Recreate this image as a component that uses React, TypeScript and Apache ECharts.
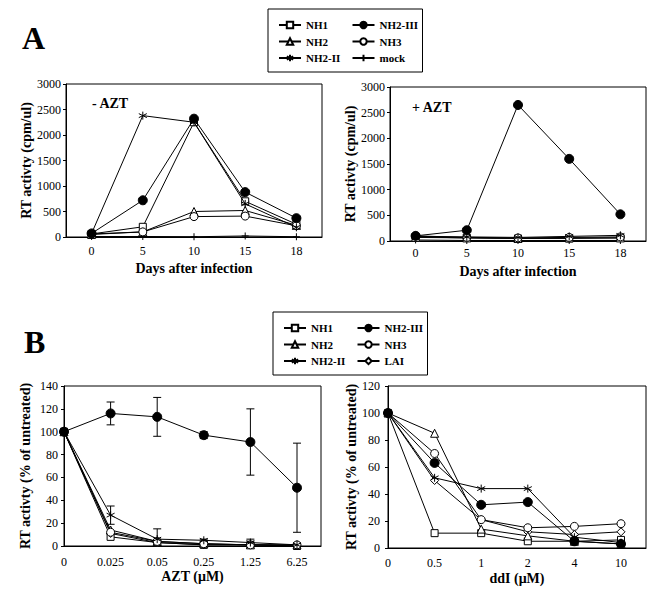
import React, { useEffect, useRef } from 'react';
import * as echarts from 'echarts';

// ---------- data ----------
const DAYS = ['0', '5', '10', '15', '18'];
// Panel A, - AZT (cpm/ul)
const MINUS_NH1 = [60, 200, 2250, 700, 250];
const MINUS_NH2 = [50, 100, 500, 520, 230];
const MINUS_NH2_II = [70, 2380, 2250, 650, 190];
const MINUS_NH2_III = [70, 720, 2320, 880, 370];
const MINUS_NH3 = [60, 100, 400, 410, 220];
const MINUS_MOCK = [10, 10, 5, 20, 5];
// Panel A, + AZT (cpm/ul)
const PLUS_NH1 = [80, 60, 50, 50, 60];
const PLUS_NH2 = [70, 60, 50, 60, 60];
const PLUS_NH2_II = [90, 80, 70, 90, 110];
const PLUS_NH2_III = [100, 210, 2650, 1600, 520];
const PLUS_NH3 = [100, 70, 60, 70, 80];
const PLUS_MOCK = [20, 10, 10, 10, 10];

// Panel B, AZT (% of untreated)
const AZT_DOSES = ['0', '0.025', '0.05', '0.25', '1.25', '6.25'];
const AZT_NH1 = [100, 8, 3, 1, 1, 0];
const AZT_NH2 = [100, 14, 4, 2, 1, 1];
const AZT_NH2_II = [100, 27, 6, 5, 3, 1];
const AZT_NH2_III = [100, 116, 113, 97, 91, 51];
const AZT_NH3 = [100, 12, 4, 2, 1, 1];
const AZT_LAI = [100, 11, 3, 1, 1, 0];
const AZT_NH2_III_ERR = [0, 10, 17, 3, 29, 39];
const AZT_NH2_II_ERR = [0, 8, 9, 1, 3, 1];

// Panel B, ddI (% of untreated)
const DDI_DOSES = ['0', '0.5', '1', '2', '4', '10'];
const DDI_NH1 = [100, 11, 11, 5, 5, 6];
const DDI_NH2 = [100, 85, 14, 9, 5, 3];
const DDI_NH2_II = [100, 52, 44, 44, 8, 4];
const DDI_NH2_III = [100, 63, 32, 34, 5, 3];
const DDI_NH3 = [100, 70, 21, 15, 16, 18];
const DDI_LAI = [100, 50, 21, 12, 10, 12];

// ---------- styles ----------
const FONT = "'Liberation Serif', serif";
const STAR = 'path://M5,0L5,10M0.7,2.5L9.3,7.5M9.3,2.5L0.7,7.5';
const PLUS = 'path://M0,5L10,5M5,0L5,10';
const STYLES: Record<string, { symbol: string; size: number; fill: string; z: number }> = {
  NH1: { symbol: 'rect', size: 7, fill: '#fff', z: 3 },
  NH2: { symbol: 'triangle', size: 8, fill: '#fff', z: 3 },
  'NH2-II': { symbol: STAR, size: 8, fill: '#000', z: 4 },
  'NH2-III': { symbol: 'circle', size: 9, fill: '#000', z: 5 },
  NH3: { symbol: 'circle', size: 8, fill: '#fff', z: 3 },
  mock: { symbol: PLUS, size: 7, fill: '#000', z: 2 },
  LAI: { symbol: 'diamond', size: 8, fill: '#fff', z: 3 },
};

function line(name: string, values: number[], idx: number, indexed: boolean) {
  const s = STYLES[name];
  return {
    type: 'line',
    name,
    xAxisIndex: idx,
    yAxisIndex: idx,
    data: indexed ? values.map((v, i) => [i, v]) : values,
    symbol: s.symbol,
    symbolSize: s.size,
    showSymbol: true,
    showAllSymbol: true,
    lineStyle: { color: '#000', width: 1 },
    itemStyle: { color: s.fill, borderColor: '#000', borderWidth: 1 },
    emphasis: { disabled: true },
    z: s.z,
  };
}

function errorBars(values: number[], errs: number[], idx: number) {
  return {
    type: 'custom',
    xAxisIndex: idx,
    yAxisIndex: idx,
    encode: { x: 0, y: [1, 2] },
    data: values.map((v, i) => [i, Math.max(0, v - errs[i]), v + errs[i]]).filter((d, i) => errs[i] > 0),
    z: 1,
    silent: true,
    renderItem: (params: any, api: any) => {
      const x = api.value(0);
      const top = api.coord([x, api.value(2)]);
      const bot = api.coord([x, api.value(1)]);
      const w = 4;
      const st = { stroke: '#000', lineWidth: 1 };
      return {
        type: 'group',
        children: [
          { type: 'line', shape: { x1: top[0], y1: top[1], x2: bot[0], y2: bot[1] }, style: st },
          { type: 'line', shape: { x1: top[0] - w, y1: top[1], x2: top[0] + w, y2: top[1] }, style: st },
          { type: 'line', shape: { x1: bot[0] - w, y1: bot[1], x2: bot[0] + w, y2: bot[1] }, style: st },
        ],
      };
    },
  };
}

const nameStyle = { fontFamily: FONT, fontWeight: 'bold', fontSize: 14, color: '#000' };
const axisLine = { show: true, onZero: false, lineStyle: { color: '#000', width: 1 } };

function yAxis(gi: number, max: number, interval: number, name: string, gap: number, margin: number) {
  return {
    type: 'value',
    gridIndex: gi,
    min: 0,
    max,
    interval,
    name,
    nameLocation: 'middle',
    nameGap: gap,
    nameTextStyle: nameStyle,
    axisLine,
    axisTick: { show: true, inside: false, length: 3, lineStyle: { color: '#000', width: 1 } },
    axisLabel: { color: '#000', fontFamily: FONT, fontSize: 12, margin, formatter: (v: number) => String(v) },
    splitLine: { show: false },
  };
}

function catXAxis(gi: number, name: string, gap: number, margin: number) {
  return {
    type: 'category',
    gridIndex: gi,
    data: DAYS,
    boundaryGap: true,
    name,
    nameLocation: 'middle',
    nameGap: gap,
    nameTextStyle: nameStyle,
    axisLine,
    axisTick: { show: false },
    axisLabel: { color: '#000', fontFamily: FONT, fontSize: 12, margin, interval: 0 },
    splitLine: { show: false },
  };
}

function doseXAxis(gi: number, labels: string[], max: number, name: string, gap: number, margin: number) {
  return {
    type: 'value',
    gridIndex: gi,
    min: 0,
    max,
    interval: 1,
    name,
    nameLocation: 'middle',
    nameGap: gap,
    nameTextStyle: nameStyle,
    axisLine,
    axisTick: { show: false },
    axisLabel: {
      color: '#000',
      fontFamily: FONT,
      fontSize: 12,
      margin,
      showMaxLabel: false,
      formatter: (v: number) => (Number.isInteger(v) && labels[v] != null ? labels[v] : ''),
    },
    splitLine: { show: false },
  };
}

function legend(names: string[], left: number, top: number) {
  return {
    data: names,
    left,
    top,
    width: 150,
    orient: 'horizontal',
    itemWidth: 22,
    itemHeight: 8,
    itemGap: 4.5,
    padding: [10, 2, 8, 10],
    borderColor: '#000',
    borderWidth: 1,
    selectedMode: false,
    textStyle: { fontFamily: FONT, fontWeight: 'bold', fontSize: 11, color: '#000', width: 41, lineHeight: 12 },
  };
}

const gridBase = { show: true, borderColor: '#000', borderWidth: 1, backgroundColor: 'transparent', containLabel: false, outerBoundsMode: 'none' };

export default function App() {
  const ref = useRef<HTMLDivElement>(null);
  useEffect(() => {
    if (!ref.current) return;
    const chart = echarts.init(ref.current, null, { renderer: 'svg' });
    const option: any = {
      animation: false,
      backgroundColor: '#fff',
      textStyle: { fontFamily: FONT },
      grid: [
        { ...gridBase, left: 66, top: 84, width: 256, height: 153 },
        { ...gridBase, left: 390, top: 87, width: 256, height: 154 },
        { ...gridBase, left: 64, top: 386, width: 257, height: 160 },
        { ...gridBase, left: 388, top: 386, width: 258, height: 162 },
      ],
      xAxis: [
        catXAxis(0, 'Days after infection', 24, 8),
        catXAxis(1, 'Days after infection', 23, 6),
        doseXAxis(2, AZT_DOSES, 257 / 46.6, 'AZT (μM)', 23, 10),
        doseXAxis(3, DDI_DOSES, 258 / 46.6, 'ddI (μM)', 23, 9),
      ],
      yAxis: [
        yAxis(0, 3000, 500, 'RT activty (cpm/ul)', 33, 5),
        yAxis(1, 3000, 500, 'RT activty (cpm/ul)', 28, 5),
        yAxis(2, 140, 20, 'RT activty (% of untreated)', 32, 6),
        yAxis(3, 120, 20, 'RT activty (% of untreated)', 26, 8),
      ],
      legend: [
        legend(['NH1', 'NH2-III', 'NH2', 'NH3', 'NH2-II', 'mock'], 268, 9),
        legend(['NH1', 'NH2-III', 'NH2', 'NH3', 'NH2-II', 'LAI'], 273, 312),
      ],
      graphic: [
        { type: 'text', left: 22, top: 22, style: { text: 'A', font: `bold 32px ${FONT}`, fill: '#000' } },
        { type: 'text', left: 24, top: 326, style: { text: 'B', font: `bold 32px ${FONT}`, fill: '#000' } },
        { type: 'text', left: 92, top: 96, style: { text: '- AZT', font: `bold 14px ${FONT}`, fill: '#000' } },
        { type: 'text', left: 412, top: 100, style: { text: '+ AZT', font: `bold 14px ${FONT}`, fill: '#000' } },
      ],
      series: [
        line('mock', MINUS_MOCK, 0, false),
        line('NH1', MINUS_NH1, 0, false),
        line('NH2', MINUS_NH2, 0, false),
        line('NH3', MINUS_NH3, 0, false),
        line('NH2-II', MINUS_NH2_II, 0, false),
        line('NH2-III', MINUS_NH2_III, 0, false),

        line('mock', PLUS_MOCK, 1, false),
        line('NH1', PLUS_NH1, 1, false),
        line('NH2', PLUS_NH2, 1, false),
        line('NH3', PLUS_NH3, 1, false),
        line('NH2-II', PLUS_NH2_II, 1, false),
        line('NH2-III', PLUS_NH2_III, 1, false),

        errorBars(AZT_NH2_III, AZT_NH2_III_ERR, 2),
        errorBars(AZT_NH2_II, AZT_NH2_II_ERR, 2),
        line('NH1', AZT_NH1, 2, true),
        line('LAI', AZT_LAI, 2, true),
        line('NH2', AZT_NH2, 2, true),
        line('NH3', AZT_NH3, 2, true),
        line('NH2-II', AZT_NH2_II, 2, true),
        line('NH2-III', AZT_NH2_III, 2, true),

        line('NH1', DDI_NH1, 3, true),
        line('LAI', DDI_LAI, 3, true),
        line('NH2', DDI_NH2, 3, true),
        line('NH3', DDI_NH3, 3, true),
        line('NH2-II', DDI_NH2_II, 3, true),
        line('NH2-III', DDI_NH2_III, 3, true),
      ],
    };
    chart.setOption(option);
    return () => chart.dispose();
  }, []);
  return (
    <div
      ref={ref}
      style={{ position: 'fixed', left: 0, top: 0, width: 660, height: 596, background: '#fff' }}
    />
  );
}
